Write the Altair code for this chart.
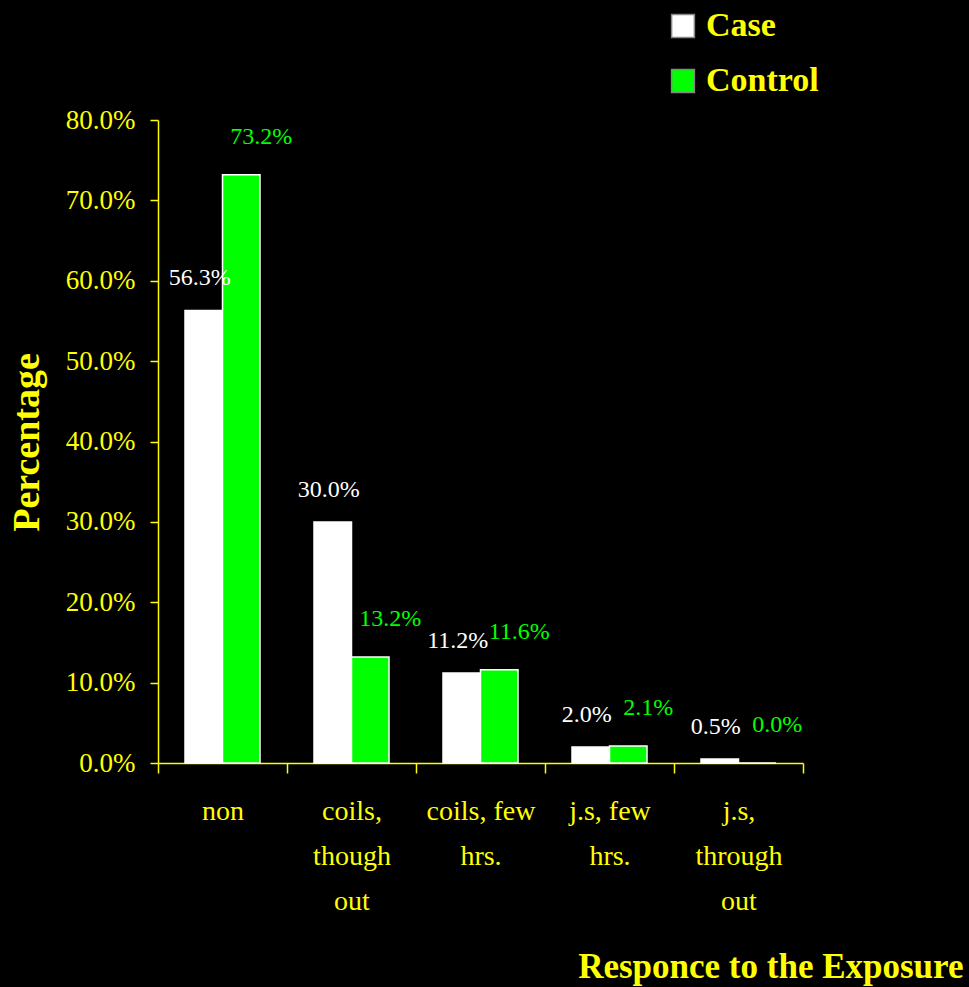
import altair as alt
import pandas as pd

categories = ["non", "coils,|though|out", "coils, few|hrs.", "j.s, few|hrs.", "j.s,|through|out"]
groups = ["Case", "Control"]
case_vals = [0.563, 0.300, 0.112, 0.020, 0.005]
control_vals = [0.732, 0.132, 0.116, 0.021, 0.000]

rows = []
for c, a, b in zip(categories, case_vals, control_vals):
    rows.append({"cat": c, "group": "Case", "value": a})
    rows.append({"cat": c, "group": "Control", "value": b})
df = pd.DataFrame(rows)

YEL = "#ffff00"
GREEN = "#00ff00"
FONT = "Liberation Serif"

x_enc = alt.X(
    "cat:N", sort=categories,
    scale=alt.Scale(paddingInner=0, paddingOuter=0),
    axis=alt.Axis(
        title="Responce to the Exposure",
        labelExpr="split(datum.label, '|')",
        labelAngle=0, labelFont=FONT, labelFontSize=28, labelColor=YEL,
        labelLineHeight=45, labelPadding=24, labelBaseline="top",
        tickBand="extent", tickSize=10, tickColor=YEL, tickWidth=1.5,
        domainColor=YEL, domainWidth=1.5,
        titleFont=FONT, titleFontSize=35, titleFontWeight="bold", titleColor=YEL,
        titleAnchor="end", titleAlign="right", titleBaseline="alphabetic",
        titleX=805, titleY=214,
    ),
)
xo_enc = alt.XOffset("group:N", sort=groups,
                     scale=alt.Scale(paddingOuter=0.72, paddingInner=0))
y_enc = alt.Y(
    "value:Q",
    scale=alt.Scale(domain=[0, 0.8]),
    axis=alt.Axis(
        title="Percentage", format=".1%", values=[i / 10 for i in range(9)],
        labelFont=FONT, labelFontSize=27, labelColor=YEL, labelPadding=15,
        tickSize=8, tickColor=YEL, tickWidth=1.5,
        domainColor=YEL, domainWidth=1.5, grid=False,
        titleFont=FONT, titleFontSize=38, titleFontWeight="bold", titleColor=YEL,
        titleAngle=-90, titleAlign="center", titleBaseline="middle",
        titleX=-131, titleY=322,
    ),
)

bars = alt.Chart(df).mark_bar(stroke="white", strokeWidth=1.5).encode(
    x=x_enc, xOffset=xo_enc, y=y_enc,
    color=alt.Color(
        "group:N", sort=groups,
        scale=alt.Scale(domain=groups, range=["#ffffff", GREEN]),
        legend=alt.Legend(
            title=None, orient="none", legendX=508, legendY=-111,
            symbolType="square", symbolSize=520, symbolStrokeColor="#888888",
            symbolStrokeWidth=1.5, labelFont=FONT, labelFontSize=34,
            labelFontWeight="bold", labelColor=YEL, labelOffset=6,
            rowPadding=21, padding=0,
        ),
    ),
)

case_text = alt.Chart(df).transform_filter(alt.datum.group == "Case").mark_text(
    font=FONT, fontSize=24, color="white", baseline="middle", dy=-32, dx=-4
).encode(x=alt.X("cat:N", sort=categories), xOffset=xo_enc, y="value:Q",
         text=alt.Text("value:Q", format=".1%"))

ctrl_text = alt.Chart(df).transform_filter(alt.datum.group == "Control").mark_text(
    font=FONT, fontSize=24, color=GREEN, baseline="middle", dy=-38, dx=20
).encode(x=alt.X("cat:N", sort=categories), xOffset=xo_enc, y="value:Q",
         text=alt.Text("value:Q", format=".1%"))

chart = alt.layer(bars, case_text, ctrl_text).properties(
    width=645, height=643,
    background="black",
    padding={"left": 158, "top": 120, "right": 166, "bottom": 224},
    autosize=alt.AutoSizeParams(type="none"),
).configure_view(stroke=None)

chart.save("out.html", embed_options={"renderer": "svg", "actions": False})
